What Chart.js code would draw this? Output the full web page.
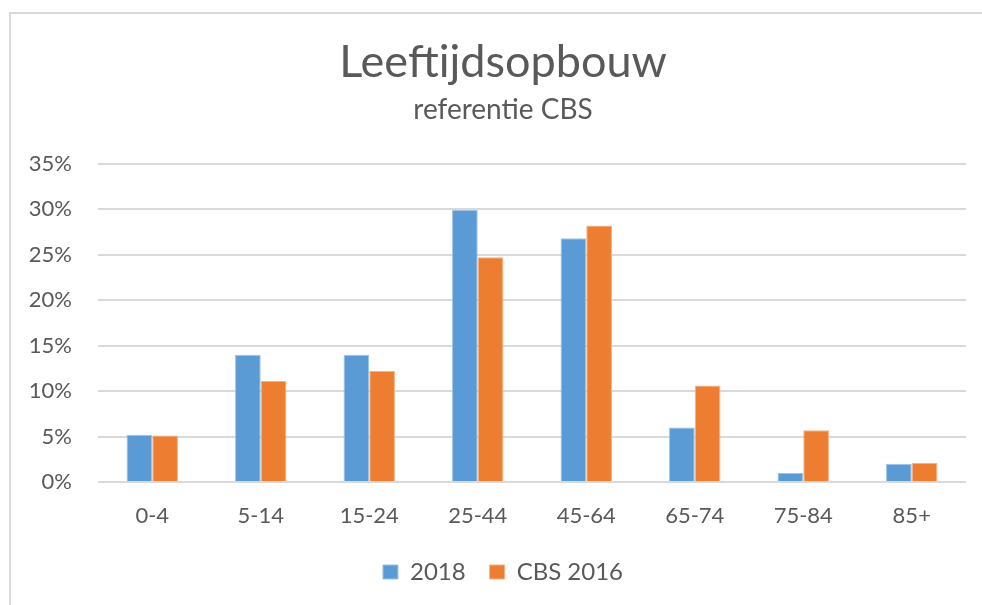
<!DOCTYPE html>
<html><head><meta charset="utf-8">
<script src="https://cdn.jsdelivr.net/npm/chart.js@4.4.0/dist/chart.umd.min.js"></script>
<style>
html,body{margin:0;padding:0;background:#fff;}
#wrap{position:relative;width:982px;height:605px;overflow:hidden;background:#fff;}
#frame{position:absolute;left:9px;top:12px;width:990px;height:610px;border-left:2px solid #D9D9D9;border-top:2px solid #D9D9D9;}
canvas{position:absolute;left:0;top:0;}
</style></head><body>
<div id="wrap"><div id="frame"></div><canvas id="c" width="982" height="605"></canvas></div>
<script>
const categories = ['0-4','5-14','15-24','25-44','45-64','65-74','75-84','85+'];
const series2018 = [5.2, 14.0, 14.0, 29.9, 26.8, 6.0, 1.0, 2.0];
const seriesCBS2016 = [5.1, 11.1, 12.2, 24.7, 28.2, 10.6, 5.7, 2.1];
const seriesNames = ['2018', 'CBS 2016'];
const yMin = 0, yMax = 35, yStep = 5;
const titleText = 'Leeftijdsopbouw';
const subtitleText = 'referentie CBS';

const textColor = '#595959';
const fontFamily = 'Lato, "Open Sans", sans-serif';

const legendHeightFix = {
  id: 'legendHeightFix',
  beforeInit(chart) {
    const lg = chart.legend;
    if (!lg) return;
    const orig = lg.fit;
    lg.fit = function () { orig.call(this); this.height = 60; };
  }
};

new Chart(document.getElementById('c'), {
  type: 'bar',
  data: {
    labels: categories,
    datasets: [
      { label: seriesNames[0], data: series2018, backgroundColor: '#5B9BD5', borderColor: '#9DC3E6', borderWidth: 1, categoryPercentage: 0.474, barPercentage: 1.0 },
      { label: seriesNames[1], data: seriesCBS2016, backgroundColor: '#ED7D31', borderColor: '#F4B183', borderWidth: 1, categoryPercentage: 0.474, barPercentage: 1.0 }
    ]
  },
  plugins: [legendHeightFix],
  options: {
    responsive: false,
    animation: false,
    layout: { padding: { left: 24, right: 0, top: 0, bottom: 9 } },
    plugins: {
      title: {
        display: true, text: titleText, color: textColor,
        font: { family: fontFamily, size: 45, weight: 'normal' },
        padding: { top: 35, bottom: 4 }
      },
      subtitle: {
        display: true, text: subtitleText, color: textColor,
        font: { family: fontFamily, size: 28, weight: 'normal' },
        padding: { top: 0, bottom: 37 }
      },
      legend: {
        position: 'bottom',
        labels: { color: textColor, font: { family: fontFamily, size: 24 }, boxWidth: 15, boxHeight: 14, padding: 24 }
      },
      tooltip: { enabled: false }
    },
    scales: {
      x: {
        afterFit: (s) => { s.height = 54; },
        grid: { display: false, drawTicks: false },
        border: { display: false },
        ticks: { color: textColor, font: { family: fontFamily, size: 22 }, padding: 21 }
      },
      y: {
        min: yMin, max: yMax,
        afterFit: (s) => { s.width = 74; },
        grid: { color: '#D9D9D9', lineWidth: 2, drawTicks: false },
        border: { display: false },
        ticks: { stepSize: yStep, color: textColor, font: { family: fontFamily, size: 22 }, padding: 26,
          callback: (v) => v + '%' }
      },
      yRight: {
        position: 'right',
        afterFit: (s) => { s.width = 16; },
        grid: { display: false, drawTicks: false },
        border: { display: false },
        ticks: { display: false }
      }
    }
  }
});
</script>
</body></html>
